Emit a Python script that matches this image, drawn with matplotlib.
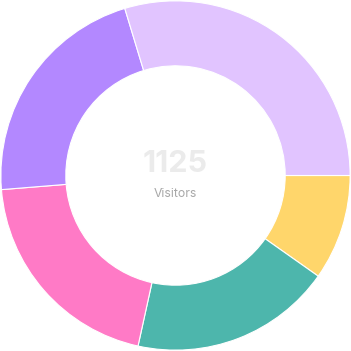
import matplotlib
matplotlib.use('Agg')
import matplotlib.pyplot as plt

# visitors per segment, clockwise from 3 o'clock
labels = ['A', 'B', 'C', 'D', 'E']
values = [110, 210, 228, 243, 334]
colors = ['#FFD66B', '#4DB6AC', '#FF7AC6', '#B388FF', '#E1C4FF']
total_label = '1125'
sub_label = 'Visitors'

fig = plt.figure(figsize=(3.51, 3.51), dpi=100)
ax = fig.add_axes([0, 0, 1, 1])
ax.pie(values, colors=colors, startangle=0, counterclock=False, radius=0.995,
       wedgeprops=dict(width=0.37, edgecolor='white', linewidth=0.8))
ax.set_xlim(-1, 1)
ax.set_ylim(-1, 1)
ax.set_aspect('equal')
ax.axis('off')

ax.text(0, 0.065, total_label, ha='center', va='center', fontsize=22,
        fontweight='bold', color='#EBEBEB', family='Inter')
ax.text(0, -0.105, sub_label, ha='center', va='center', fontsize=8.8,
        color='#A8A8A8', family='Inter')

plt.savefig('out.png', dpi=100)
